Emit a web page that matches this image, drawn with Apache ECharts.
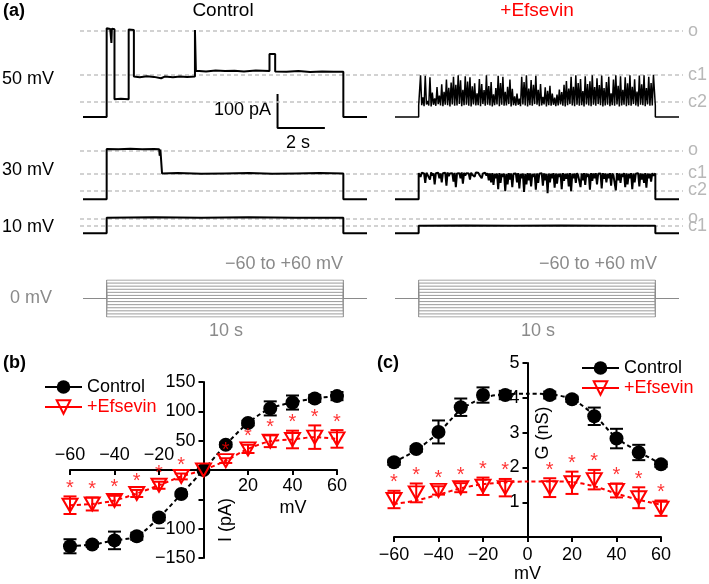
<!DOCTYPE html>
<html><head><meta charset="utf-8">
<script src="https://cdn.jsdelivr.net/npm/echarts@6/dist/echarts.min.js"></script>
<style>html,body{margin:0;padding:0;background:#fff}#c{width:709px;height:584px}</style>
</head><body><div id="c"></div>
<script>
// ---------------- DATA ----------------
// Panel (a): single-channel traces, [time s, current pA]
const ctrl50 = [[-1,0],[0,0],[0,261],[0.15,259],[0.2,218],[0.22,260],[0.33,258],[0.33,52],[0.6,54],[0.93,52],[0.93,257],[1.15,256],[1.15,119],[1.4,117],[1.7,120],[2.0,118],[2.3,114],[2.45,119],[2.8,117],[3.1,119],[3.4,118],[3.73,119],[3.73,256],[3.77,256],[3.77,136],[4.2,134],[4.6,137],[5.0,135],[5.4,136],[5.8,134],[6.3,137],[6.88,135],[6.88,185],[7.12,185],[7.12,134],[7.6,133],[8.1,135],[8.6,132],[9.1,134],[9.6,133],[10,133],[10,0],[11,0]];
const ctrl30 = [[-1,0],[0,0],[0,148],[0.5,147],[1.0,149],[1.5,147],[2.0,148],[2.22,147],[2.24,128],[2.27,146],[2.34,147],[2.34,76],[3,77],[4,75],[5,76],[6,77],[7,75],[8,76],[9,77],[10,76],[10,0],[11,0]];
const ctrl10 = [[-1,0],[0,0],[0,46],[2,47],[4,46],[6,47],[8,46],[10,46],[10,0],[11,0]];
const efs10 = [[-1,0],[0,0],[0,22],[2,23],[4,22],[6,23],[8,22],[10,22],[10,0],[11,0]];
// +Efsevin 50 mV: burst peaks and inter-burst levels (pA)
const efs50Peaks = [123,58,121,47,117,72,55,88,63,96,74,110,86,101,118,95,123,108,80,120,104,117,90,99,70,112,97,79,123,91,103,67,85,121,100,118,74,89,110,83,61,69,54,118,103,123,84,109,95,121,80,97,59,87,77,92,69,57,66,81,73,95,106,84,118,89,123,100,112,76,120,97,105,123,88,114,94,122,85,103,118,70,110,123,92,120,80,117,99,123,89,111,75,122,96,123,85,118,100,124];
const efs50Base = [33,35,32,37,34,31,36,33,38,34,32,36,35,31,37,33,34,38,32,35,36,33,31,37,34,35,32,38,33,36,34,31,35,37,32,36,33,34,38,31,35,33,36,32,37,34,31,35,33,38,36,32,34,37,31,35,33,36,32,34,37,33,31,35,38,34,32,36,33,35,31,37,34,32,36,33,38,35,31,34,36,32,35,33,37,31,34,36,32,35,33,38,34,31,36,35,32,37,33,34];
// +Efsevin 30 mV: open level and closing dips (pA)
const efs30Tops = [77,78,76,78,77,79,76,77,78,76,77,78,79,76,77,78,76,77,79,78,77,76,78,77,79,78,77,76,78,77,76,77,75,76,77,75,76,75,77,76,75,76,77,75,76,75,77,76,75,76,76,75,77,76,75,76,75,77,76,75,76,77,75,76,77,75,76,77,75,76,77,76,75,77,76,77,75,76,77,76,75,77,76,75,77,76,75,77,76,75,77,76,75,77,76,75,77,76,75,77];
const efs30Dips = [66,74,48,72,58,70,44,75,62,50,72,40,68,74,52,36,73,62,46,70,75,58,72,66,74,72,62,74,70,56,50,42,62,30,48,66,24,44,58,36,70,50,32,62,22,44,56,38,66,28,48,70,40,56,18,50,62,34,46,66,30,54,60,38,24,62,48,70,36,56,42,66,28,54,62,44,70,32,60,50,62,40,70,26,56,48,66,36,44,62,30,50,70,38,58,48,34,62,52,70];
// current levels (pA) for the dashed lines
const levels50 = [{name:'o',value:253},{name:'c1',value:123},{name:'c2',value:44}];
const levels30 = [{name:'o',value:144},{name:'c1',value:76},{name:'c2',value:26}];
const levels10 = [{name:'o',value:44},{name:'c1',value:21}];
// voltage protocol
const protoSteps = [-60,-50,-40,-30,-20,-10,0,10,20,30,40,50,60];
const holdMV = 0;
// Panel (b): I-V
const vSteps = [-60,-50,-40,-30,-20,-10,0,10,20,30,40,50,60];
const ivControl = [-130,-127,-120,-113,-81,-41,0,43,80,105,115,122,126];
const ivControlErr = [12,4,15,6,5,3,2,4,4,12,12,6,7];
const ivEfsevin = [-60,-58,-52,-40,-26,-11,0,16,36,49,52,56,53];
const ivEfsevinErr = [15,11,8,6,6,5,3,4,7,10,15,20,15];
const ivStars = [1,1,1,1,1,1,0,1,1,1,1,1,1];
// Panel (c): G-V
const gSteps = [-60,-50,-40,-30,-20,-10,10,20,30,40,50,60];
const gControl = [2.15,2.53,3.02,3.73,4.08,4.08,4.08,3.96,3.47,2.83,2.43,2.09];
const gControlErr = [0.08,0.08,0.33,0.25,0.22,0.12,0.1,0.08,0.25,0.28,0.22,0.08];
const gEfsevin = [1.08,1.27,1.34,1.42,1.46,1.42,1.42,1.56,1.65,1.34,1.13,0.83];
const gEfsevinErr = [0.25,0.27,0.12,0.13,0.25,0.25,0.27,0.32,0.28,0.2,0.3,0.22];
const gStars = [1,1,1,1,1,1,1,1,1,1,1,1];
const gFitSteps = [-60,-50,-40,-30,-20,-10,0,10,20,30,40,50,60];
const gControlFit = [2.15,2.5,3.0,3.65,4.0,4.1,4.12,4.1,3.96,3.5,2.85,2.45,2.1];
const gEfsevinFit = [0.95,1.05,1.22,1.4,1.52,1.57,1.6,1.6,1.58,1.46,1.25,1.07,0.93];

// ---------------- BUILD ----------------
const FONT = '"Liberation Sans", Arial, Helvetica, sans-serif';
const RED = '#ff0000';
const K = 0.34; // px per pA
const minus = v => String(v).replace('-', '\u2212');

function burst(tops, bottoms, startLevel) {
  const n = tops.length, out = [[-1,0],[0,0],[0,startLevel]];
  for (let i = 0; i < n; i++) {
    const t = 0.03 + i * 9.94 / n;
    out.push([t, bottoms[i]]);
    out.push([t + 4.97 / n, tops[i]]);
  }
  out.push([10, startLevel],[10,0],[11,0]);
  return out;
}
function burstDown(tops, dips) {
  const n = tops.length, out = [[-1,0],[0,0],[0,tops[0]]];
  for (let i = 0; i < n; i++) {
    const t = 0.03 + i * 9.94 / n;
    out.push([t, tops[i]]);
    out.push([t + 4.97 / n, dips[i]]);
  }
  out.push([10, 76],[10,0],[11,0]);
  return out;
}

const grids = [], xAxes = [], yAxes = [], series = [];
function addGrid(g, x, y) { grids.push(g); const i = grids.length - 1;
  xAxes.push(Object.assign({gridIndex:i, type:'value', show:false}, x));
  yAxes.push(Object.assign({gridIndex:i, type:'value', show:false}, y)); return i; }
function row(baseY, minPA, maxPA) { return {top: baseY - maxPA*K, height: (maxPA-minPA)*K}; }

const rows = [
  {base:117, min:-40, max:280, ctrl:ctrl50, efs:burst(efs50Peaks, efs50Base, 34), lv:levels50},
  {base:199.3, min:-20, max:160, ctrl:ctrl30, efs:burstDown(efs30Tops, efs30Dips), lv:levels30},
  {base:233.3, min:-10, max:50, ctrl:ctrl10, efs:efs10, lv:levels10}
];
rows.forEach((r, ri) => {
  const rr = row(r.base, r.min, r.max);
  const yo = {min:r.min, max:r.max};
  const gi0 = addGrid({left:83, width:284, top:rr.top, height:rr.height}, {min:-1,max:11}, yo);
  const gi1 = addGrid({left:395, width:284, top:rr.top, height:rr.height}, {min:-1,max:11}, yo);
  const gi2 = addGrid({left:80, width:603, top:rr.top, height:rr.height}, {min:0,max:1}, yo);
  series.push({type:'line', xAxisIndex:gi2, yAxisIndex:gi2, data:[[0,r.min],[1,r.min]], symbol:'none', lineStyle:{opacity:0}, silent:true,
    markLine:{silent:true, symbol:'none', lineStyle:{color:'#c4c4c4', type:[4,3], width:1.5},
      label:{show:true, position:'end', formatter:'{b}', color:'#b8b8b8', fontSize:18, fontFamily:FONT, distance:5},
      data:r.lv.map(l => ({name:l.name, yAxis:l.value}))}});
  series.push({type:'line', xAxisIndex:gi0, yAxisIndex:gi0, data:r.ctrl, symbol:'none', z:5, lineStyle:{color:'#000', width:2}, animation:false});
  series.push({type:'line', xAxisIndex:gi1, yAxisIndex:gi1, data:r.efs, symbol:'none', z:5, lineStyle:{color:'#000', width:ri===0?1.5:2}, animation:false});
  if (ri === 0) {
    // scale bar: 100 pA x 2 s
    series.push({type:'line', xAxisIndex:gi0, yAxisIndex:gi0, data:[[7.22,-32+100],[7.22,-32],[7.22+2,-32]], symbol:'none', lineStyle:{color:'#000', width:2}});
  }
});
// voltage protocol grids
[83, 395].forEach(left => {
  const gi = addGrid({left, width:284, top:280, height:37}, {min:-1,max:11}, {min:-60,max:60});
  protoSteps.forEach(v => {
    series.push({type:'line', xAxisIndex:gi, yAxisIndex:gi, symbol:'none', silent:true,
      lineStyle:{color:(v===60||v===-60)?'#8a8a8a':'#9a9a9a', width:1},
      data:[[-1,holdMV],[0,holdMV],[0,v],[10,v],[10,holdMV],[11,holdMV]]});
  });
});

const LBL = {color:'#000', fontSize:18, fontFamily:FONT};
function axisStyle(extra) {
  return Object.assign({
    axisLine:{onZero:false, lineStyle:{color:'#000', width:2}},
    axisTick:{length:5, lineStyle:{color:'#000', width:2}},
    splitLine:{show:false}}, extra);
}

// panel (b): grid 70..337 x 382..558 ; zero at (203.5, 470)
grids.push({left:70, width:267, top:382, height:176});
const gB = grids.length - 1;
xAxes.push(axisStyle({gridIndex:gB, type:'value', min:-60, max:60, interval:20, position:'bottom', offset:-88,
  axisLabel:Object.assign({margin:7, formatter:v => v>0 ? String(v) : ''}, LBL)}));
yAxes.push(axisStyle({gridIndex:gB, type:'value', min:-150, max:150, interval:50, position:'left', offset:-133.5,
  axisLabel:Object.assign({margin:8, formatter:v => (v===0||v===-50) ? '' : minus(v)}, LBL)}));
// panel (c): grid 394..661 x 363..540 ; x=0 at 527.5
grids.push({left:394, width:267, top:363, height:177});
const gC = grids.length - 1;
xAxes.push(axisStyle({gridIndex:gC, type:'value', min:-60, max:60, interval:20, position:'bottom',
  axisLabel:Object.assign({margin:9, formatter:v => minus(v)}, LBL),
  name:'mV', nameLocation:'middle', nameGap:27, nameTextStyle:LBL}));
yAxes.push(axisStyle({gridIndex:gC, type:'value', min:0, max:5, interval:1, position:'left', offset:-133.5,
  axisLabel:Object.assign({margin:8, formatter:v => v===0 ? '' : String(v)}, LBL)}));
// (b) negative tick labels above the axis
xAxes.push({gridIndex:gB, type:'value', min:-60, max:60, interval:20, position:'top', offset:-88,
  axisLine:{show:false, onZero:false}, axisTick:{show:false}, splitLine:{show:false},
  axisLabel:Object.assign({margin:6, formatter:v => v<0 ? minus(v) : ''}, LBL)});

const triPath = 'path://M0,0L20,0L10,17Z';
function errSeries(gi, steps, mean, err, color, z) {
  return {type:'custom', xAxisIndex:gi, yAxisIndex:gi, z, silent:true,
    data: steps.map((v,i) => [v, mean[i]-err[i], mean[i]+err[i]]),
    encode:{x:0, y:[1,2]},
    renderItem(params, api) {
      const x = api.value(0);
      const lo = api.coord([x, api.value(1)]), hi = api.coord([x, api.value(2)]);
      const w = 6.5, st = {stroke:color, lineWidth:2};
      return {type:'group', children:[
        {type:'line', shape:{x1:lo[0],y1:lo[1],x2:hi[0],y2:hi[1]}, style:st},
        {type:'line', shape:{x1:lo[0]-w,y1:lo[1],x2:lo[0]+w,y2:lo[1]}, style:st},
        {type:'line', shape:{x1:hi[0]-w,y1:hi[1],x2:hi[0]+w,y2:hi[1]}, style:st}]};
    }};
}
function starSeries(gi, steps, mean, err, flags) {
  return {type:'scatter', xAxisIndex:gi, yAxisIndex:gi, z:8, silent:true, symbolSize:2, itemStyle:{color:'rgba(0,0,0,0)'},
    data: steps.map((v,i) => flags[i] ? [v, mean[i]+err[i]] : null).filter(d => d),
    label:{show:true, position:'top', distance:-3, formatter:'*', color:RED, fontSize:20, fontFamily:FONT}};
}
function markerSeries(gi, name, steps, vals, isCtrl) {
  return {type:'line', name, xAxisIndex:gi, yAxisIndex:gi, z:6, silent:true,
    data: steps.map((v,i) => [v, vals[i]]),
    showAllSymbol:true, symbol: isCtrl ? 'circle' : triPath, symbolSize: isCtrl ? 14 : [15,13],
    lineStyle:{opacity:0, color: isCtrl ? '#000' : RED},
    itemStyle: isCtrl ? {color:'#000'} : {color:'rgba(255,255,255,0)', borderColor:RED, borderWidth:2}};
}
function fitSeries(gi, steps, vals, color) {
  return {type:'line', name:'fit', xAxisIndex:gi, yAxisIndex:gi, z:3, silent:true, smooth:0.3, symbol:'none',
    data: steps.map((v,i) => [v, vals[i]]), lineStyle:{color, width:2, type:[4,3]}};
}
// (b)
series.push(markerSeries(gB, 'Control', vSteps, ivControl, true));
series.push(markerSeries(gB, '+Efsevin', vSteps, ivEfsevin, false));
series.push(fitSeries(gB, vSteps, ivControl, '#000'));
series.push(fitSeries(gB, vSteps, ivEfsevin, RED));
series.push(errSeries(gB, vSteps, ivControl, ivControlErr, '#000', 4));
series.push(errSeries(gB, vSteps, ivEfsevin, ivEfsevinErr, RED, 5));
series.push(starSeries(gB, vSteps, ivEfsevin, ivEfsevinErr, ivStars));
// (c)
series.push(markerSeries(gC, 'Control', gSteps, gControl, true));
series.push(markerSeries(gC, '+Efsevin', gSteps, gEfsevin, false));
series.push(fitSeries(gC, gFitSteps, gControlFit, '#000'));
series.push(fitSeries(gC, gFitSteps, gEfsevinFit, RED));
series.push(errSeries(gC, gSteps, gControl, gControlErr, '#000', 4));
series.push(errSeries(gC, gSteps, gEfsevin, gEfsevinErr, RED, 5));
series.push(starSeries(gC, gSteps, gEfsevin, gEfsevinErr, gStars));

const legendData = [
  {name:'Control', textStyle:{color:'#000'}, lineStyle:{color:'#000', width:2, type:'solid', opacity:1}},
  {name:'+Efsevin', textStyle:{color:RED}, lineStyle:{color:RED, width:2, type:'solid', opacity:1}}
];
function legend(left, top) {
  return {left, top, orient:'vertical', itemWidth:37, itemHeight:17, itemGap:2, selectedMode:false,
    textStyle:{fontSize:18, fontFamily:FONT}, data:legendData};
}

function txt(text, x, y, opts) {
  return Object.assign({type:'text', x, y, silent:true,
    style:Object.assign({text, fontSize:18, fontFamily:FONT, fill:'#000', align:'left', verticalAlign:'middle'}, opts || {})});
}
const graphic = [
  txt('(a)', 3, 11, {fontWeight:'bold'}),
  txt('Control', 223, 11, {align:'center', fontSize:19}),
  txt('+Efsevin', 537, 11, {align:'center', fontSize:19, fill:RED}),
  txt('50 mV', 2, 79), txt('30 mV', 2, 170), txt('10 mV', 2, 227),
  txt('100 pA', 271, 110, {align:'right'}),
  txt('2 s', 298, 143, {align:'center'}),
  txt('0 mV', 10, 298, {fill:'#8a8a8a'}),
  txt('\u221260 to +60 mV', 343, 264, {align:'right', fill:'#8a8a8a'}),
  txt('\u221260 to +60 mV', 657, 264, {align:'right', fill:'#8a8a8a'}),
  txt('10 s', 226, 331, {align:'center', fill:'#8a8a8a'}),
  txt('10 s', 538, 331, {align:'center', fill:'#8a8a8a'}),
  txt('(b)', 3, 363, {fontWeight:'bold'}),
  txt('(c)', 377, 363, {fontWeight:'bold'}),
  txt('mV', 293, 508, {align:'center'}),
  Object.assign(txt('I (pA)', 226, 520, {align:'center'}), {rotation:Math.PI/2}),
  Object.assign(txt('G (nS)', 543, 433, {align:'center'}), {rotation:Math.PI/2})
];

const chart = echarts.init(document.getElementById('c'), null, {width:709, height:584, renderer:'canvas'});
chart.setOption({
  animation:false, backgroundColor:'#fff',
  grid:grids, xAxis:xAxes, yAxis:yAxes, series,
  legend:[legend(39, 373), legend(576, 354)],
  graphic
});
</script>
</body></html>
